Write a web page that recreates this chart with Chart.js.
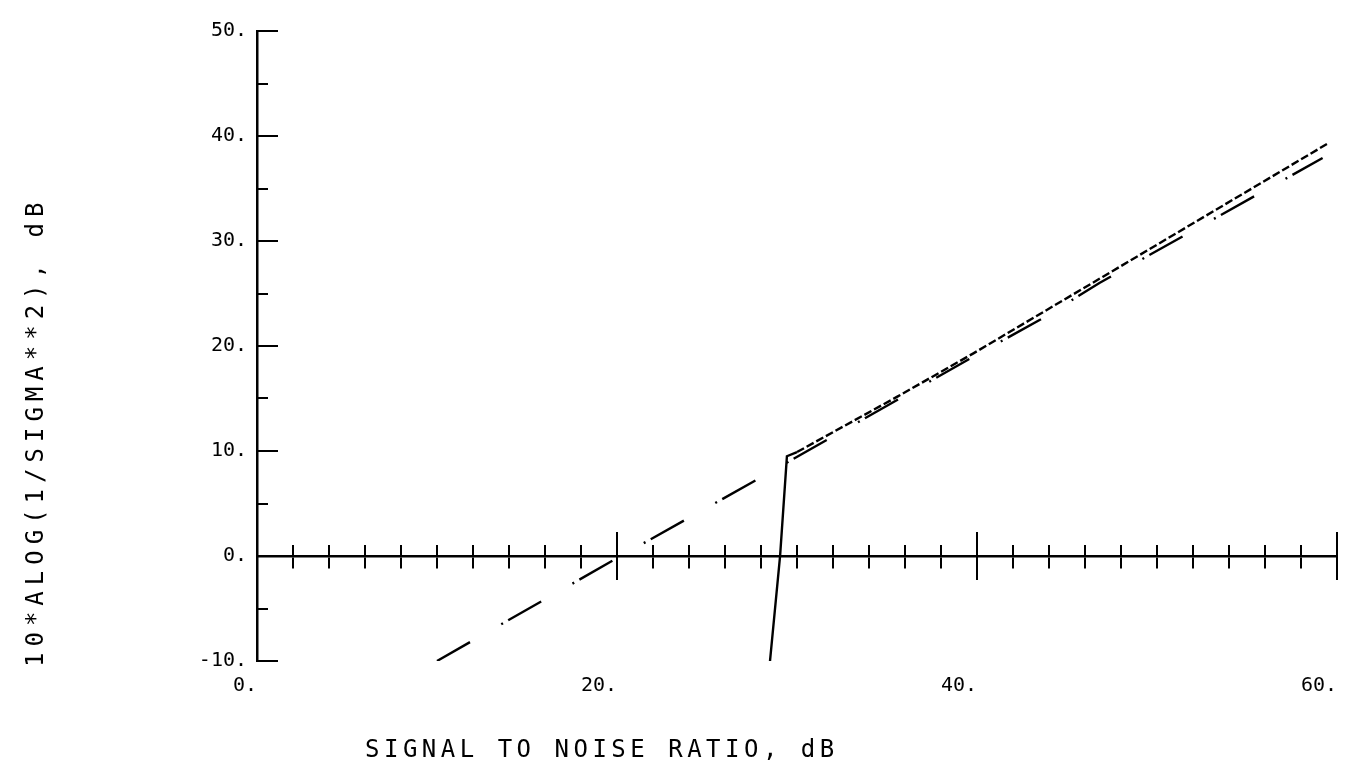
<!DOCTYPE html>
<html>
<head>
<meta charset="utf-8">
<style>
  html, body { margin: 0; padding: 0; background: #ffffff; }
  #wrap { width: 1350px; height: 776px; }
</style>
<script src="https://cdn.jsdelivr.net/npm/chart.js@4.4.0/dist/chart.umd.min.js"></script>
</head>
<body>
<div id="wrap"><canvas id="c" width="1350" height="776"></canvas></div>
<script>
// ---- data ----
const xTickValues = [0, 20, 40, 60];
const xTickLabels = ['0.', '20.', '40.', '60.'];
const yTickValues = [-10, 0, 10, 20, 30, 40, 50];
const yTickLabels = ['-10.', '0.', '10.', '20.', '30.', '40.', '50.'];
const xTitle = 'SIGNAL TO NOISE RATIO, dB';
const yTitle = '10*ALOG(1/SIGMA**2), dB';

// threshold curve (short-dash line with the vertical jump)
const thresholdX = [28.5, 29.06, 29.44, 30.0, 35.6, 39.8, 47.0, 59.5];
const thresholdY = [-10, 0, 9.5, 9.9, 15.2, 19.3, 26.6, 39.3];

// linear curve (long dash - dot line)
const linearX = [10.0, 19.9, 27.7, 39.4, 43.5, 46.8, 59.2];
const linearY = [-10, -0.3, 7.2, 18.6, 22.5, 26.0, 37.9];

// ---- styling ----
const black = '#000000';
const tickFont = { family: '"DejaVu Sans Mono", monospace', size: 20 };

function labelFrom(values, labels) {
  return (v) => {
    const i = values.indexOf(v);
    return i >= 0 ? labels[i] : '';
  };
}

function markAxis(axis, position, step, len, showBorder, extra) {
  return Object.assign({
    type: 'linear',
    axis: axis,
    position: position,
    min: axis === 'x' ? 0 : -10,
    max: axis === 'x' ? 60 : 50,
    ticks: { display: false, stepSize: step },
    grid: { display: true, drawOnChartArea: false, drawTicks: true, tickLength: len, tickWidth: 2, tickColor: black, lineWidth: 2, color: black },
    border: { display: showBorder, color: black, width: 2.5 }
  }, extra || {});
}

const axisTitles = {
  id: 'axisTitles',
  afterDraw(chart) {
    const ctx = chart.ctx;
    ctx.save();
    ctx.fillStyle = black;
    ctx.font = '24px "DejaVu Sans Mono", monospace';
    ctx.textBaseline = 'alphabetic';
    ctx.textAlign = 'left';
    ctx.letterSpacing = '4.5px';
    ctx.fillText(xTitle, 365, 757);
    ctx.translate(43, 667);
    ctx.rotate(-Math.PI / 2);
    ctx.letterSpacing = '6px';
    ctx.fillText(yTitle, 0, 0);
    ctx.restore();
  }
};

new Chart(document.getElementById('c'), {
  type: 'scatter',
  data: {
    datasets: [
      {
        label: 'threshold',
        data: thresholdX.map((x, i) => ({ x: x, y: thresholdY[i] })),
        showLine: true,
        borderColor: black,
        borderWidth: 2.4,
        pointRadius: 0,
        tension: 0,
        segment: {
          borderDash: (c) => (c.p0DataIndex < 3 ? [] : [8, 3])
        }
      },
      {
        label: 'linear',
        data: linearX.map((x, i) => ({ x: x, y: linearY[i] })),
        showLine: true,
        borderColor: black,
        borderWidth: 2.4,
        borderDash: [38, 36, 2, 6],
        pointRadius: 0,
        tension: 0
      }
    ]
  },
  options: {
    responsive: false,
    animation: false,
    devicePixelRatio: 1,
    layout: { padding: { top: 31, right: 13, bottom: 0, left: 0 } },
    plugins: { legend: { display: false }, tooltip: { enabled: false }, title: { display: false } },
    scales: {
      x: {
        type: 'linear', axis: 'x', position: 'bottom', min: 0, max: 60,
        ticks: { stepSize: 20, align: 'end', padding: 13, color: black, font: tickFont, maxRotation: 0, autoSkip: false,
                 callback: labelFrom(xTickValues, xTickLabels) },
        grid: { display: false, drawTicks: false },
        border: { display: false },
        afterFit: (s) => { s.height = 115; }
      },
      xMinorDown: markAxis('x', { y: 0 }, 2, 11, true),
      xMinorUp: markAxis('x', { y: 0 }, 2, -11, false),
      xMajorDown: markAxis('x', { y: 0 }, 20, 24, false),
      xMajorUp: markAxis('x', { y: 0 }, 20, -24, false),
      y: {
        type: 'linear', axis: 'y', position: 'left', weight: 2, min: -10, max: 50,
        ticks: { stepSize: 10, padding: 10, color: black, font: tickFont,
                 callback: labelFrom(yTickValues, yTickLabels) },
        grid: { display: false, drawTicks: false },
        border: { display: false },
        afterFit: (s) => { s.width = 257; }
      },
      yMajor: markAxis('y', 'left', 10, -21, true, { weight: 1, afterFit: (s) => { s.width = 0; } }),
      yMinor: markAxis('y', 'left', 5, -11, false, { weight: 0, afterFit: (s) => { s.width = 0; } })
    }
  },
  plugins: [axisTitles]
});
</script>
</body>
</html>
